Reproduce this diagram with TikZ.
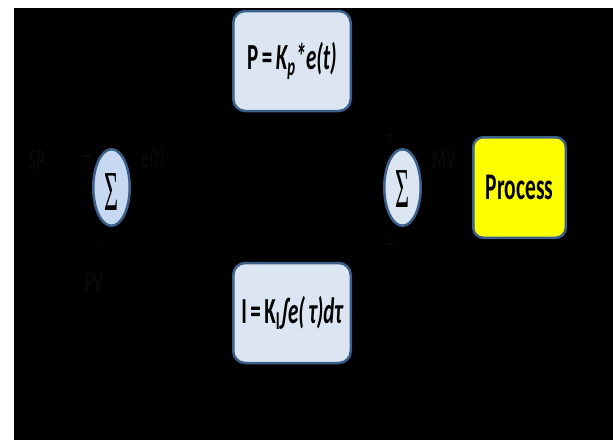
\documentclass[tikz,border=0pt]{standalone}
\usepackage{fontspec}
\setmainfont{Carlito}
\newfontfamily\sigmafont{Liberation Serif}
\usetikzlibrary{shapes.geometric,arrows.meta}
\definecolor{boxedge}{RGB}{60,96,140}
\definecolor{boxfill}{RGB}{220,230,242}
\definecolor{sumfill}{RGB}{198,217,241}
\definecolor{procfill}{RGB}{255,255,0}
\definecolor{faint}{RGB}{11,11,11}
\begin{document}
\begin{tikzpicture}[x=1pt,y=-1pt,
  termbox/.style={draw=boxedge, line width=2.5pt, fill=boxfill, rounded corners=12pt,
    minimum width=117.5pt, minimum height=100pt, inner sep=0pt},
  procbox/.style={draw=boxedge, line width=2.5pt, fill=procfill, rounded corners=10pt,
    minimum width=92.5pt, minimum height=100.5pt, inner sep=0pt},
  sumnode/.style={draw=boxedge, line width=2.5pt, ellipse, minimum width=36.5pt,
    minimum height=76.5pt, inner sep=0pt},
  faintlabel/.style={text=faint, inner sep=0pt, font=\fontsize{18}{18}\selectfont},
  conn/.style={draw=black, line width=1.5pt, -{Stealth[length=8pt]}},
  plainconn/.style={draw=black, line width=1.5pt}]
% page and background
\fill[white] (0,0) rectangle (613,440);
\fill[black] (14,8) rectangle (613,440);
% blocks
\node[termbox] (pbox) at (292,61) {\scalebox{1}[1.75]{\fontsize{21}{21}\selectfont\bfseries P\,=\,\itshape K\textsubscript{p}*e(t)}};
\node[termbox] (ibox) at (292,313) {\scalebox{1}[1.75]{\fontsize{21}{21}\selectfont\bfseries I\,=\,K\textsubscript{I}\itshape ∫e(\,τ)dτ}};
\node[sumnode, fill=sumfill] (sum1) at (111.5,187.5) {};
\node[sumnode, fill=boxfill] (sum2) at (402.5,187.5) {};
\node[inner sep=0pt] (sig1) at (111.5,192) {\scalebox{1}[2.35]{\sigmafont\fontsize{24}{24}\selectfont Σ}};
\node[inner sep=0pt] (sig2) at (402.5,189) {\scalebox{1}[2.35]{\sigmafont\fontsize{24}{24}\selectfont Σ}};
\node[procbox] (proc) at (519.5,187.5) {\scalebox{1}[1.75]{\fontsize{21.5}{21.5}\selectfont\bfseries Process}};
% faint labels
\node[faintlabel] (sp) at (37,160) {\scalebox{0.9}[1.6]{SP}};
\node[faintlabel] (plus1) at (87,158) {\scalebox{0.9}[1.6]{+}};
\node[faintlabel] (err) at (153,159) {\scalebox{0.9}[1.6]{e(t)}};
\node[faintlabel] (minus1) at (101,249) {\scalebox{0.9}[1.6]{-}};
\node[faintlabel] (pv) at (94,282) {\scalebox{0.9}[1.6]{PV}};
\node[faintlabel] (plus2) at (390,137) {\scalebox{0.9}[1.6]{+}};
\node[faintlabel] (plus3) at (390,246) {\scalebox{0.9}[1.6]{+}};
\node[faintlabel] (mv) at (444,159) {\scalebox{0.9}[1.6]{MV}};
% connectors (black on black)
\coordinate (spin) at (16,187.5);
\coordinate (split) at (185,187.5);
\coordinate (out) at (600,187.5);
\coordinate (fb) at (600,405);
\draw[conn] (spin) -- (sum1.west);
\draw[plainconn] (sum1.east) -- (split);
\draw[conn] (split) |- (pbox.west);
\draw[conn] (split) |- (ibox.west);
\draw[conn] (pbox.east) -| (sum2.north);
\draw[conn] (ibox.east) -| (sum2.south);
\draw[conn] (sum2.east) -- (proc.west);
\draw[plainconn] (proc.east) -- (out) -- (fb);
\draw[conn] (fb) -| (sum1.south);
\end{tikzpicture}
\end{document}
